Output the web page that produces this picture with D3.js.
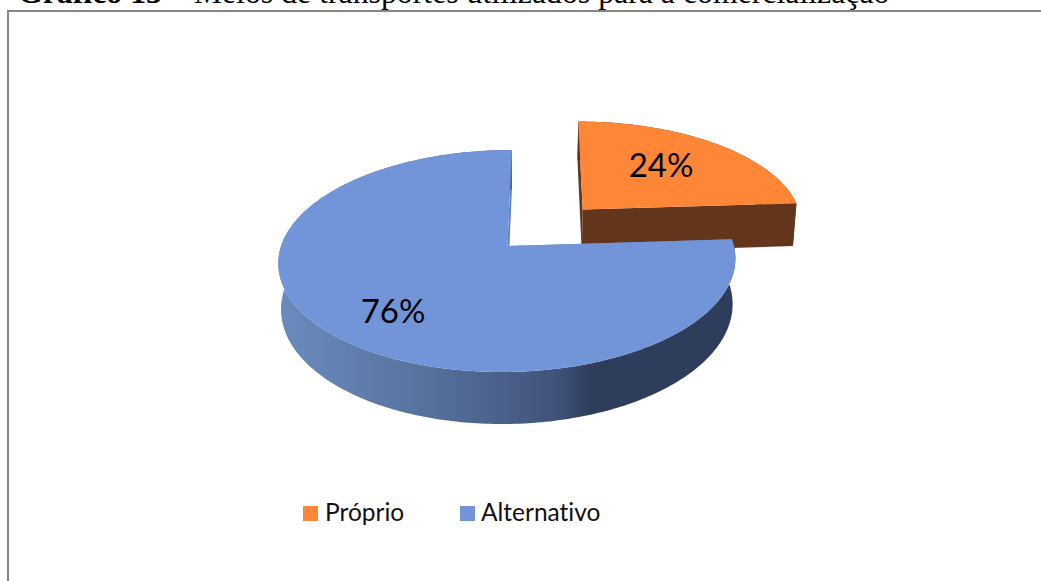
<!DOCTYPE html>
<html><head><meta charset="utf-8"><script src="https://cdn.jsdelivr.net/npm/d3@7"></script>
<style>html,body{margin:0;padding:0;background:#fff}svg{display:block}text{font-variant-ligatures:none}</style></head>
<body><div id="c"></div>
<script>
const categories = ["Próprio", "Alternativo"];
const values = [24, 76];
const labels = ["24%", "76%"];
const title = ["Gráfico 13", " – Meios de transportes utilizados para a comercialização"];
const W = 1041, H = 581;
const colors = ["#fe8637", "#7295d9"];
const svg = d3.select("#c").append("svg").attr("width", W).attr("height", H);

const defs = svg.append("defs");
const grad = defs.append("linearGradient").attr("id", "side").attr("gradientUnits", "userSpaceOnUse")
  .attr("x1", 283).attr("x2", 730).attr("y1", 0).attr("y2", 0);
[[0, "#6a8abe"], [.3, "#58739f"], [.5, "#4a5f8a"], [.62, "#3f5078"], [.69, "#2e3d5c"], [1, "#2e3d5c"]]
  .forEach(([o, c]) => grad.append("stop").attr("offset", o).attr("stop-color", c));

// frame
svg.append("path").attr("d", `M8 ${H} V11 H${W}`).attr("fill", "none").attr("stroke", "#868686").attr("stroke-width", 2);

// title
const t = svg.append("text").attr("x", 18).attr("y", 3).attr("font-family", "Liberation Serif").attr("font-size", 31.8).attr("fill", "#000");
t.append("tspan").attr("font-weight", "bold").text(title[0]);
t.append("tspan").text(title[1]);

// perspective projection of the pie plane
const P = { x0: 507.5, y0: 246, A: 109, B: 226.4, s: 5, t: 0, k: 0.135, depth: 45, shrink: 0.012 };
function proj(u, v, z) {
  const w = 1 + P.k * v;
  const f = 1 - P.shrink * z;
  return [P.x0 + (P.B * u + P.s * v) * f / w, P.y0 - (P.A * v + P.t * u) / w + P.depth * z / w];
}
const pie = d3.pie().sort(null)(values);
const explode = [[0.34, 0.35], [0, 0]];
const line = d3.line();
function arcPts(d, i, z) {
  const [ex, ey] = explode[i];
  const n = Math.ceil((d.endAngle - d.startAngle) * 60);
  return d3.range(n + 1).map(j => {
    const a = d.startAngle + (d.endAngle - d.startAngle) * j / n;
    return proj(ex + Math.sin(a), ey + Math.cos(a), z);
  });
}
function apex(i, z) { return proj(explode[i][0], explode[i][1], z); }
const wallCol = ["#63351a", "#5f7fb8"];
pie.forEach((d, i) => {
  const g = svg.append("g");
  const top = arcPts(d, i, 0), bot = arcPts(d, i, 1);
  const at = apex(i, 0), ab = apex(i, 1);
  const first = [at, top[0], bot[0], ab], last = [at, top[top.length - 1], bot[bot.length - 1], ab];
  g.append("path").attr("d", line(first) + "Z").attr("fill", wallCol[i]);
  g.append("path").attr("d", line(last) + "Z").attr("fill", wallCol[i]);
  g.append("path").attr("d", line(top.concat(bot.slice().reverse())) + "Z")
    .attr("fill", i === 1 ? "url(#side)" : "#63351a");
  g.append("path").attr("d", line([at, ...top]) + "Z").attr("fill", colors[i]);
});

// data labels
const labelPos = [[661, 169], [393, 315]];
labels.forEach((l, i) => svg.append("text").attr("x", labelPos[i][0]).attr("y", labelPos[i][1])
  .attr("text-anchor", "middle").attr("dominant-baseline", "middle")
  .attr("font-family", "Lato").attr("font-size", 33).attr("fill", "#000").text(l));

// legend
const legX = [303, 460], legT = [325, 481];
categories.forEach((c, i) => {
  svg.append("rect").attr("x", legX[i]).attr("y", 506).attr("width", 15).attr("height", 15).attr("fill", colors[i]);
  svg.append("text").attr("x", legT[i]).attr("y", 520.5).attr("font-family", "Lato").attr("font-size", 24.5).attr("fill", "#111").text(c);
});
</script></body></html>
